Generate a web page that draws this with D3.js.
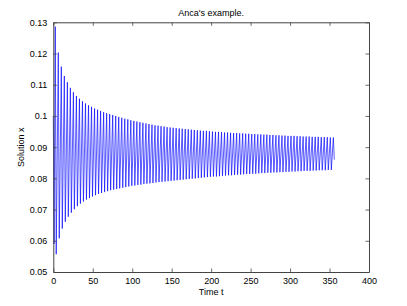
<!DOCTYPE html>
<html>
<head>
<meta charset="utf-8">
<script src="https://cdn.jsdelivr.net/npm/d3@7"></script>
<style>
  body { margin: 0; background: #fff; }
  text { font-family: "Liberation Sans", Arial, Helvetica, sans-serif; font-size: 9px; fill: #000; }
</style>
</head>
<body>
<svg id="chart" width="407" height="306"></svg>
<script>
// start of the run, before the first peak
const startT = [0, 1.0]
const startX = [0.100, 0.059]

// peaks of the oscillation
const peakT = [2.5, 6.33, 10.16, 13.99, 17.82, 21.65, 25.48, 29.31, 33.14, 36.97,
  40.8, 44.63, 48.46, 52.29, 56.12, 59.95, 63.78, 67.61, 71.44, 75.27,
  79.1, 82.93, 86.76, 90.59, 94.42, 98.25, 102.08, 105.91, 109.74, 113.57,
  117.4, 121.23, 125.06, 128.89, 132.72, 136.55, 140.38, 144.21, 148.04, 151.87,
  155.7, 159.53, 163.36, 167.19, 171.02, 174.85, 178.68, 182.51, 186.34, 190.17,
  194.0, 197.83, 201.66, 205.49, 209.32, 213.15, 216.98, 220.81, 224.64, 228.47,
  232.3, 236.13, 239.96, 243.79, 247.62, 251.45, 255.28, 259.11, 262.94, 266.77,
  270.6, 274.43, 278.26, 282.09, 285.92, 289.75, 293.58, 297.41, 301.24, 305.07,
  308.9, 312.73, 316.56, 320.39, 324.22, 328.05, 331.88, 335.71, 339.54, 343.37,
  347.2, 351.03, 354.86]
const peakX = [.1286, .1203, .1158, .1128, .1108, .1090, .1076, .1064, .1055, .1047,
  .1040, .1034, .1029, .1024, .1020, .1016, .1012, .1009, .1006, .1003,
  .1000, .0997, .0994, .0991, .0989, .0986, .0984, .0982, .0980, .0978,
  .0976, .0974, .0972, .0970, .0969, .0967, .0966, .0964, .0963, .0962,
  .0961, .0960, .0959, .0958, .0957, .0956, .0955, .0954, .0953, .0952,
  .0952, .0951, .0950, .0949, .0949, .0948, .0947, .0947, .0946, .0945,
  .0945, .0944, .0944, .0943, .0943, .0942, .0942, .0941, .0941, .0940,
  .0940, .0939, .0939, .0938, .0938, .0937, .0937, .0936, .0936, .0936,
  .0935, .0935, .0934, .0934, .0934, .0933, .0933, .0933, .0932, .0932,
  .0932, .0931, .0931]

// troughs, just after each peak
const troughT = [3.7, 7.53, 11.36, 15.19, 19.02, 22.85, 26.68, 30.51, 34.34, 38.17,
  42.0, 45.83, 49.66, 53.49, 57.32, 61.15, 64.98, 68.81, 72.64, 76.47,
  80.3, 84.13, 87.96, 91.79, 95.62, 99.45, 103.28, 107.11, 110.94, 114.77,
  118.6, 122.43, 126.26, 130.09, 133.92, 137.75, 141.58, 145.41, 149.24, 153.07,
  156.9, 160.73, 164.56, 168.39, 172.22, 176.05, 179.88, 183.71, 187.54, 191.37,
  195.2, 199.03, 202.86, 206.69, 210.52, 214.35, 218.18, 222.01, 225.84, 229.67,
  233.5, 237.33, 241.16, 244.99, 248.82, 252.65, 256.48, 260.31, 264.14, 267.97,
  271.8, 275.63, 279.46, 283.29, 287.12, 290.95, 294.78, 298.61, 302.44, 306.27,
  310.1, 313.93, 317.76, 321.59, 325.42, 329.25, 333.08, 336.91, 340.74, 344.57,
  348.4, 352.23]
const troughX = [.0557, .0608, .0639, .0661, .0677, .0690, .0701, .0711, .0719, .0726,
  .0732, .0737, .0742, .0746, .0750, .0753, .0756, .0759, .0762, .0764,
  .0766, .0768, .0770, .0772, .0774, .0776, .0777, .0779, .0780, .0782,
  .0783, .0784, .0785, .0787, .0788, .0789, .0790, .0791, .0792, .0793,
  .0794, .0795, .0796, .0797, .0798, .0799, .0800, .0801, .0802, .0803,
  .0804, .0805, .0806, .0806, .0807, .0808, .0809, .0810, .0810, .0811,
  .0812, .0812, .0813, .0814, .0814, .0815, .0815, .0816, .0817, .0817,
  .0818, .0818, .0819, .0819, .0820, .0820, .0821, .0821, .0822, .0822,
  .0823, .0823, .0824, .0824, .0824, .0825, .0825, .0826, .0826, .0826,
  .0827, .0827]

// last sample
const endT = 356
const endX = 0.086

const xTicks = [0, 50, 100, 150, 200, 250, 300, 350, 400]
const yTicks = [0.05, 0.06, 0.07, 0.08, 0.09, 0.1, 0.11, 0.12, 0.13]
const yTickLabels = ['0.05', '0.06', '0.07', '0.08', '0.09', '0.1', '0.11', '0.12', '0.13']

const titleText = "Anca's example."
const xLabel = 'Time t'
const yLabel = 'Solution x'

// build the path: start, then peak/trough pairs, then the end point
const series = []
startT.forEach((t, i) => series.push({t, x: startX[i]}))
peakT.forEach((t, i) => {
  series.push({t, x: peakX[i]})
  if (i < troughT.length) series.push({t: troughT[i], x: troughX[i]})
})
series.push({t: endT, x: endX})

const svg = d3.select('#chart')
const plotLeft = 53.3, plotRight = 369, plotTop = 22.3, plotBottom = 272

const x = d3.scaleLinear().domain([0, 400]).range([plotLeft, plotRight])
const y = d3.scaleLinear().domain([0.05, 0.13]).range([plotBottom, plotTop])

svg.append('rect').attr('width', 407).attr('height', 306).attr('fill', '#fff')

// data line
svg.append('path')
  .datum(series)
  .attr('fill', 'none')
  .attr('stroke', '#0000ff')
  .attr('stroke-width', 0.65)
  .attr('d', d3.line().x(d => x(d.t)).y(d => y(d.x)))

// axes, ticks inward on all four sides
const axisColor = '#444'
const tickLen = 3.5

const bottomAxis = d3.axisBottom(x).tickValues(xTicks).tickSizeInner(-tickLen).tickSizeOuter(0).tickPadding(6)
const leftAxis = d3.axisLeft(y).tickValues(yTicks).tickFormat((d, i) => yTickLabels[i]).tickSizeInner(-tickLen).tickSizeOuter(0).tickPadding(6)
const topAxis = d3.axisTop(x).tickValues(xTicks).tickSizeInner(-tickLen).tickSizeOuter(0).tickFormat('')
const rightAxis = d3.axisRight(y).tickValues(yTicks).tickSizeInner(-tickLen).tickSizeOuter(0).tickFormat('')

function styleAxis(g) {
  g.select('.domain').attr('stroke', axisColor).attr('stroke-width', 1)
  g.selectAll('.tick line').attr('stroke', axisColor).attr('stroke-width', 0.8)
  g.selectAll('.tick text').attr('font-family', '"Liberation Sans", Arial, sans-serif').attr('font-size', 9).attr('fill', '#000')
}

svg.append('g').attr('transform', `translate(0,${plotBottom})`).call(bottomAxis).call(styleAxis)
svg.append('g').attr('transform', `translate(${plotLeft},0)`).call(leftAxis).call(styleAxis)
svg.append('g').attr('transform', `translate(0,${plotTop})`).call(topAxis).call(styleAxis)
svg.append('g').attr('transform', `translate(${plotRight},0)`).call(rightAxis).call(styleAxis)

// labels
svg.append('text')
  .attr('x', (plotLeft + plotRight) / 2).attr('y', 15.5)
  .attr('text-anchor', 'middle')
  .text(titleText)

svg.append('text')
  .attr('x', (plotLeft + plotRight) / 2).attr('y', 294.5)
  .attr('text-anchor', 'middle')
  .text(xLabel)

svg.append('text')
  .attr('transform', `translate(24,${(plotTop + plotBottom) / 2}) rotate(-90)`)
  .attr('text-anchor', 'middle')
  .text(yLabel)
</script>
</body>
</html>
